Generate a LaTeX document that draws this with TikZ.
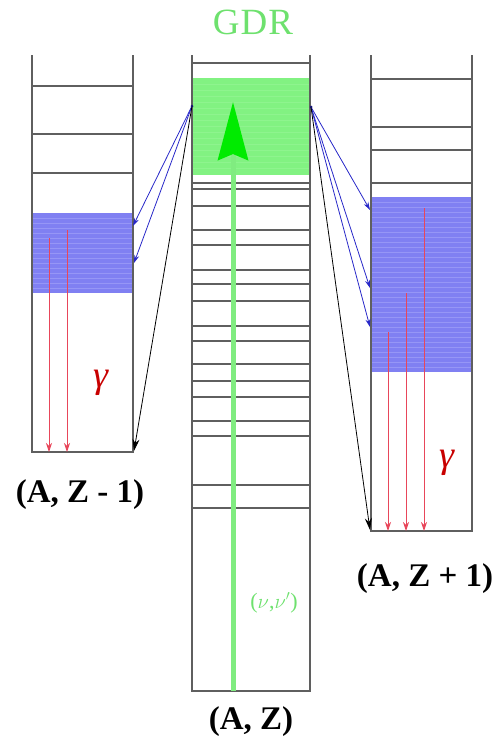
\documentclass[tikz,border=0pt]{standalone}
\usepackage{fontspec}
\setmainfont{Liberation Serif}
\usepackage{xcolor}
\usepackage{tikz}
\usetikzlibrary{arrows.meta, positioning, calc}
\definecolor{levelgray}{RGB}{95,95,95}
\definecolor{gdrgreen}{RGB}{130,242,130}
\definecolor{gdrline}{RGB}{142,244,142}
\definecolor{beamgreen}{RGB}{128,236,128}
\definecolor{headgreen}{RGB}{0,235,0}
\definecolor{textgreen}{RGB}{110,225,110}
\definecolor{bandblue}{RGB}{128,128,242}
\definecolor{bandline}{RGB}{150,150,246}
\definecolor{transblue}{RGB}{40,40,200}
\definecolor{gammared}{RGB}{232,70,90}
\definecolor{gammatext}{RGB}{200,0,0}

\begin{document}
\begin{tikzpicture}[x=1pt, y=-1pt,
  wall/.style={draw=levelgray, line width=1.1pt},
  level/.style={draw=levelgray, line width=1.1pt},
  band/.style={fill=bandblue, draw=none},
  stripe/.style={draw=bandline, line width=0.5pt},
  trans/.style={-{Stealth[length=8pt, width=5pt]}, draw=transblue,
    line width=0.8pt},
  feed/.style={-{Stealth[length=12pt, width=7pt]}, draw=black,
    line width=0.8pt},
  decay/.style={-{Stealth[length=9pt, width=6pt]}, draw=gammared,
    line width=0.9pt},
  nuclabel/.style={font=\fontsize{33}{33}\selectfont\bfseries,
    inner sep=0pt},
  gammalabel/.style={font=\fontsize{38}{38}\selectfont\itshape,
    text=gammatext, inner sep=0pt}
]
\useasboundingbox (0,0) rectangle (498,742);

% Bands of levels
\fill[band] (32,213) rectangle (133,293);
\foreach \y in {218,223,...,290}
  \draw[stripe] (32,\y) -- (133,\y);
\fill[band] (371,197) rectangle (472,372);
\foreach \y in {202,207,...,370}
  \draw[stripe] (371,\y) -- (472,\y);
\fill[gdrgreen] (192,78) rectangle (310,175);
\foreach \y in {84,90,...,172}
  \draw[draw=gdrline, line width=0.4pt] (192,\y) -- (310,\y);

% (A, Z-1) column
\draw[wall] (32,55) -- (32,452) -- (133,452) -- (133,55);
\foreach \y in {86,134,173}
  \draw[level] (32,\y) -- (133,\y);

% (A, Z) column
\draw[wall] (192,55) -- (192,691) -- (310,691) -- (310,55);
\foreach \y in {63,183,189,206,230,245,270,284,301,326,341,364,381,397,421,436,485,508}
  \draw[level] (192,\y) -- (310,\y);

% (A, Z+1) column
\draw[wall] (371,55) -- (371,531) -- (472,531) -- (472,55);
\foreach \y in {79,127,150,183}
  \draw[level] (371,\y) -- (472,\y);

% Excitation of the GDR
\coordinate (ground) at (233,691);
\coordinate (gdrtop) at (233,102);
\draw[draw=beamgreen, line width=5pt,
  -{Stealth[length=58pt, width=30pt, inset=6pt, color=headgreen]}]
  (ground) -- (gdrtop);

% Decay points of the GDR
\coordinate (gdrL) at (192,106);
\coordinate (gdrR) at (311,107);
\fill[transblue!60!black] (gdrL) circle (1.5pt);
\fill[transblue!60!black] (gdrR) circle (1.5pt);

% Targets in the daughter nuclei
\coordinate (zmA) at (133,226);
\coordinate (zmB) at (134,263);
\coordinate (zmG) at (134,451);
\coordinate (zpA) at (370,210);
\coordinate (zpB) at (370,288);
\coordinate (zpC) at (370,327);
\coordinate (zpG) at (370,530);

% Transitions
\draw[trans] (gdrL) -- (zmA);
\draw[trans] (gdrL) -- (zmB);
\draw[feed] (gdrL) -- (zmG);
\draw[trans] (gdrR) -- (zpA);
\draw[trans] (gdrR) -- (zpB);
\draw[trans] (gdrR) -- (zpC);
\draw[feed] (gdrR) -- (zpG);

% Gamma cascades
\draw[decay] (49,238) -- (49,452);
\draw[decay] (67,230) -- (67,452);
\draw[decay] (388,332) -- (388,531);
\draw[decay] (406,293) -- (406,531);
\draw[decay] (424,208) -- (424,531);
\node[gammalabel] (gamL) at (101,383) {γ};
\node[gammalabel] (gamR) at (447,463) {γ};

% Labels
\node[font=\fontsize{37}{37}\selectfont, text=textgreen, inner sep=0pt]
  (GDR) at (253,22) {G\kern1ptD\kern1ptR};
\node[font=\fontsize{22}{22}\selectfont, text=textgreen, inner sep=0pt]
  (nunu) at (274,603) {($\nu$,$\nu'$)};
\node[nuclabel] (AZm) at (80,495) {(A, Z - 1)};
\node[nuclabel] (AZp) at (425,579) {(A, Z + 1)};
\node[nuclabel] (AZ) at (251,722) {(A, Z)};
\end{tikzpicture}
\end{document}
